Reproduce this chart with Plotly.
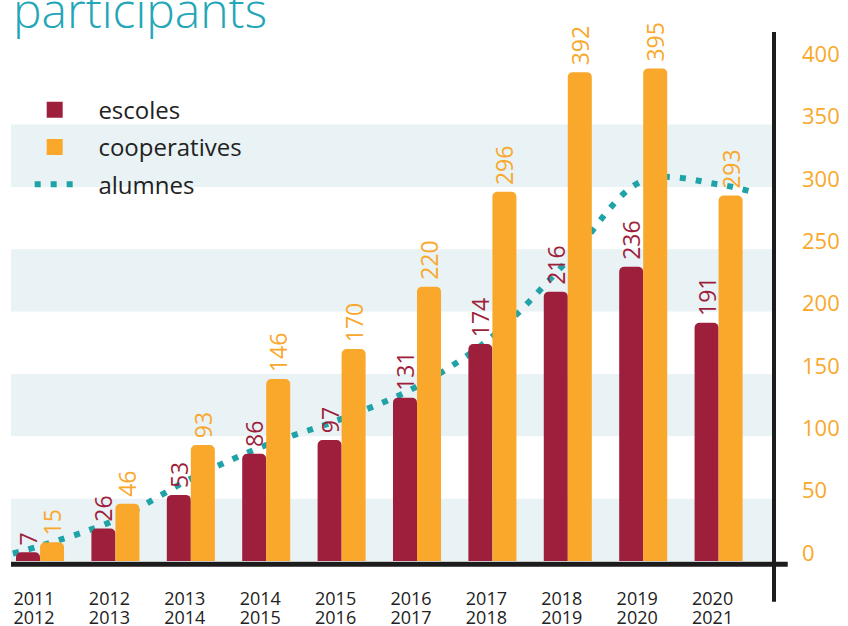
import plotly.graph_objects as go

# school years: first year under the bars, second year on the line below
anys_inici = ["2011", "2012", "2013", "2014", "2015", "2016", "2017", "2018", "2019", "2020"]
anys_fi = ["2012", "2013", "2014", "2015", "2016", "2017", "2018", "2019", "2020", "2021"]

escoles = [7, 26, 53, 86, 97, 131, 174, 216, 236, 191]
cooperatives = [15, 46, 93, 146, 170, 220, 296, 392, 395, 293]

# alumnes dotted curve (position in course units, value)
alumnes_pos = [-0.36, 0, 1, 2, 3, 4, 5, 6, 7, 8, 9, 9.5]
alumnes = [6, 12, 33, 66, 93, 114, 140, 180, 241, 305, 302, 295]

y_ticks = [0, 50, 100, 150, 200, 250, 300, 350, 400]

RED = "#9e1f3c"
ORANGE = "#f9a82b"
TEAL = "#1fa3a8"
BAND = "#e9f2f5"
FONT = "Open Sans"
X_RANGE = [-0.385, 9.735]
PAD = "\u00a0\u00a0\u00a0"

fig = go.Figure()

fig.add_trace(go.Bar(
    x=anys_inici, y=escoles, name="escoles", xaxis="x2", showlegend=False,
    marker=dict(color=RED, line=dict(width=0)),
    text=escoles, texttemplate="\u2009%{text}", textposition="outside",
    textangle=-90, textfont=dict(color=RED, size=23, family=FONT),
    constraintext="none", cliponaxis=False,
))
fig.add_trace(go.Bar(
    x=anys_inici, y=cooperatives, name="cooperatives", xaxis="x2", showlegend=False,
    marker=dict(color=ORANGE, line=dict(width=0)),
    text=cooperatives, texttemplate="\u2009%{text}", textposition="outside",
    textangle=-90, textfont=dict(color=ORANGE, size=23, family=FONT),
    constraintext="none", cliponaxis=False,
))
# line sits on the base subplot so the bars (overlay subplot) are drawn above it
fig.add_trace(go.Scatter(
    x=alumnes_pos, y=alumnes, name=PAD + "alumnes", mode="lines",
    line=dict(color=TEAL, width=6, dash="6px,10px", shape="spline", smoothing=1),
    legendgroup="c", legendrank=3,
))

# legend swatches for the bars (bigger squares than the default bar icon)
for name, color, rank in [("escoles", RED, 1), ("cooperatives", ORANGE, 2)]:
    fig.add_trace(go.Scatter(
        x=[None], y=[None], name=PAD + name, mode="markers",
        marker=dict(symbol="square", size=17, color=color),
        legendgroup=name, legendrank=rank,
    ))

# light horizontal bands
shapes = []
for lo in [0, 100, 200, 300]:
    shapes.append(dict(type="rect", xref="paper", yref="y", x0=0, x1=1, y0=lo, y1=lo + 50,
                       fillcolor=BAND, line=dict(width=0), layer="below"))
# baseline and right vertical axis line
shapes.append(dict(type="line", xref="paper", yref="paper", x0=0, x1=1.018, y0=-0.006, y1=-0.006,
                   line=dict(color="#1c1c1c", width=5)))
shapes.append(dict(type="line", xref="paper", yref="paper", x0=1, x1=1, y0=-0.077, y1=0.998,
                   line=dict(color="#1c1c1c", width=4)))

fig.update_layout(
    width=848, height=626,
    margin=dict(l=11, r=74, t=31, b=65, autoexpand=False),
    paper_bgcolor="white", plot_bgcolor="white",
    font=dict(family=FONT, color="#222222"),
    barmode="group", bargap=0.363, bargroupgap=0, barcornerradius=5,
    shapes=shapes,
    showlegend=True,
    legend=dict(x=0.0245, y=0.893, xanchor="left", yanchor="top",
                bgcolor="rgba(0,0,0,0)", font=dict(size=24, color="#222222"),
                traceorder="grouped", tracegroupgap=3, itemwidth=40, itemsizing="trace"),
    annotations=[dict(text="participants", xref="paper", yref="paper", x=0, y=1,
                      xanchor="left", yanchor="bottom", yshift=-13, showarrow=False,
                      font=dict(size=48, color="#22a6b8", family=FONT, weight=300))],
    # base axis: carries the line and the second year of each course
    xaxis=dict(range=X_RANGE, fixedrange=True, automargin=False,
               showgrid=False, zeroline=False, showline=False, ticks="",
               tickvals=list(range(len(anys_fi))), ticktext=anys_fi,
               tickfont=dict(size=18, color="#222222"),
               ticklabelstandoff=44, ticklabelshift=-6),
    # overlay axis: the bars and the first year of each course
    xaxis2=dict(type="category", overlaying="x", anchor="y", side="bottom",
                range=X_RANGE, showgrid=False, zeroline=False, showline=False,
                ticks="", tickfont=dict(size=18, color="#222222"),
                ticklabelstandoff=25, ticklabelshift=-6, automargin=False),
    yaxis=dict(range=[0, 425], side="right", showgrid=False, zeroline=False, showline=False,
               tickvals=y_ticks, ticks="", tickfont=dict(size=22, color=ORANGE),
               ticklabelstandoff=27, ticklabelshift=-8, automargin=False),
)

# drop the browser's default body margin so the 848x626 figure fills the window
fig.write_html("out.html", config={"displayModeBar": False},
               post_script="document.body.style.margin='0';")
